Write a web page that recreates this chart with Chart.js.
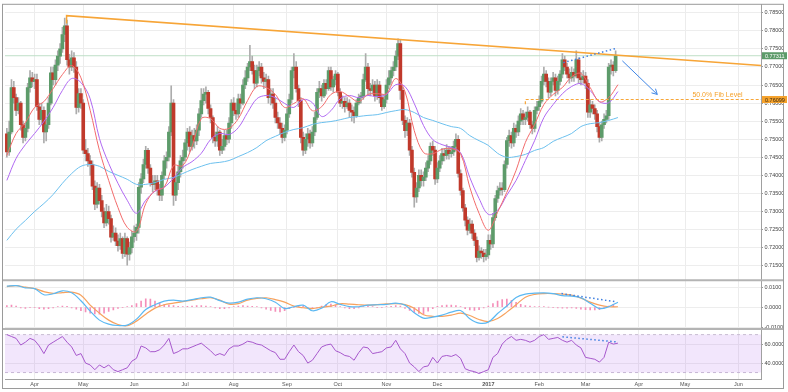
<!DOCTYPE html>
<html>
<head>
<meta charset="utf-8">
<title>AUDUSD daily</title>
<script src="https://cdn.jsdelivr.net/npm/chart.js@4.4.1/dist/chart.umd.min.js"></script>
<style>
  html, body { margin: 0; padding: 0; background: #ffffff; }
  #chart { display: block; }
</style>
</head>
<body>
<canvas id="chart" width="788" height="392"></canvas>
<script>
// =============================================
// DATA (prices in pips, 1 pip = 0.0001)
// x = trading day, 0 = 1 Apr 2016
// =============================================
const firstDay = -12;
const firstOpen = 7515;

const closes = [
  7465, 7520, 7643, 7615, 7580, 7600, 7540, 7505, 7530, 7643,
  7670, 7660, 7665, 7590, 7555, 7580, 7520, 7540, 7600, 7684,
  7665, 7705, 7730, 7750, 7790, 7814, 7720, 7700, 7725, 7700,
  7588, 7626, 7600, 7470, 7460, 7440, 7430, 7370, 7320, 7365,
  7330, 7300, 7268, 7300, 7280, 7229, 7240, 7218, 7205, 7225,
  7184, 7225, 7182, 7200, 7230, 7240, 7256, 7367, 7390, 7430,
  7469, 7420, 7380, 7375, 7385, 7360, 7345, 7400, 7440, 7450,
  7520, 7600, 7345, 7380, 7410, 7440, 7450, 7490, 7520, 7480,
  7510, 7495, 7525, 7570, 7607, 7625, 7630, 7585, 7560, 7505,
  7495, 7520, 7470, 7480, 7510, 7500, 7545, 7600, 7580, 7570,
  7612, 7600, 7650, 7670, 7700, 7715, 7690, 7655, 7690, 7700,
  7670, 7660, 7665, 7615, 7625, 7600, 7560, 7545, 7530, 7505,
  7525, 7570, 7610, 7690, 7700, 7640, 7607, 7505, 7470, 7500,
  7515, 7490, 7520, 7560, 7630, 7640, 7620, 7655, 7640, 7690,
  7645, 7665, 7680, 7630, 7600, 7605, 7590, 7600, 7580, 7575,
  7565, 7600, 7615, 7620, 7665, 7700, 7640, 7635, 7650, 7620,
  7650, 7615, 7590, 7610, 7650, 7670, 7690, 7700, 7730, 7765,
  7635, 7552, 7524, 7545, 7470, 7408, 7340, 7365, 7400, 7385,
  7395, 7420, 7440, 7480, 7470, 7390, 7420, 7440, 7460, 7455,
  7470, 7460, 7465, 7480, 7500, 7405, 7358, 7310, 7276, 7248,
  7265, 7240, 7220, 7173, 7190, 7185, 7175, 7180, 7220, 7210,
  7283, 7336, 7358, 7365, 7360, 7430, 7496, 7510, 7490, 7530,
  7520, 7550, 7570, 7555, 7560, 7575, 7540, 7530, 7580, 7590,
  7605, 7660, 7680, 7660, 7630, 7660, 7670, 7635, 7660, 7680,
  7720, 7700, 7680, 7670, 7685, 7675, 7720, 7670, 7665, 7675,
  7655, 7575, 7595, 7585, 7570, 7535, 7505, 7540, 7555, 7565,
  7700, 7705, 7690, 7731
];

const highs = [
  7530, 7550, 7665, 7660, 7625, 7615, 7605, 7550, 7545, 7655,
  7690, 7685, 7680, 7680, 7600, 7600, 7590, 7555, 7615, 7700,
  7700, 7720, 7745, 7765, 7810, 7835, 7830, 7735, 7745, 7740,
  7715, 7640, 7640, 7610, 7500, 7475, 7455, 7440, 7385, 7380,
  7375, 7345, 7310, 7320, 7315, 7290, 7260, 7255, 7235, 7240,
  7230, 7240, 7230, 7215, 7245, 7260, 7265, 7380, 7405, 7445,
  7480, 7475, 7430, 7400, 7400, 7400, 7375, 7410, 7455, 7465,
  7535, 7648, 7610, 7395, 7425, 7455, 7470, 7500, 7530, 7535,
  7525, 7530, 7540, 7585, 7640, 7640, 7645, 7635, 7595, 7565,
  7520, 7535, 7525, 7500, 7525, 7525, 7560, 7610, 7615, 7600,
  7625, 7625, 7665, 7690, 7710, 7760, 7730, 7705, 7705, 7715,
  7710, 7685, 7680, 7675, 7640, 7640, 7615, 7575, 7560, 7545,
  7540, 7585, 7625, 7700, 7737, 7715, 7650, 7615, 7520, 7515,
  7530, 7525, 7535, 7575, 7640, 7660, 7650, 7665, 7665, 7700,
  7700, 7675, 7690, 7685, 7640, 7620, 7615, 7615, 7610, 7595,
  7590, 7610, 7625, 7630, 7680, 7737, 7710, 7655, 7665, 7660,
  7665, 7660, 7625, 7620, 7665, 7690, 7700, 7715, 7745, 7778,
  7775, 7645, 7565, 7560, 7555, 7480, 7420, 7380, 7415, 7415,
  7410, 7435, 7455, 7490, 7495, 7480, 7435, 7455, 7475, 7475,
  7485, 7480, 7480, 7495, 7515, 7510, 7415, 7365, 7320, 7285,
  7280, 7275, 7250, 7230, 7205, 7200, 7195, 7195, 7235, 7235,
  7295, 7345, 7370, 7380, 7380, 7440, 7505, 7525, 7520, 7545,
  7540, 7565, 7585, 7580, 7575, 7590, 7580, 7550, 7590, 7605,
  7620, 7675, 7700, 7690, 7670, 7670, 7685, 7680, 7675, 7690,
  7737, 7730, 7710, 7695, 7700, 7695, 7745, 7725, 7685, 7690,
  7685, 7665, 7610, 7605, 7595, 7580, 7545, 7550, 7570, 7580,
  7710, 7720, 7715, 7745
];

const lows = [
  7450, 7455, 7515, 7600, 7565, 7570, 7525, 7490, 7495, 7520,
  7630, 7645, 7640, 7580, 7540, 7540, 7490, 7495, 7530, 7595,
  7650, 7650, 7690, 7710, 7740, 7770, 7705, 7680, 7690, 7685,
  7570, 7575, 7585, 7460, 7440, 7425, 7400, 7360, 7305, 7310,
  7320, 7285, 7255, 7260, 7265, 7215, 7220, 7205, 7190, 7195,
  7170, 7175, 7151, 7165, 7185, 7215, 7220, 7240, 7350, 7380,
  7420, 7405, 7370, 7355, 7360, 7345, 7330, 7330, 7390, 7420,
  7440, 7510, 7317, 7330, 7360, 7395, 7420, 7440, 7470, 7465,
  7470, 7475, 7485, 7510, 7560, 7595, 7600, 7570, 7545, 7490,
  7480, 7480, 7455, 7460, 7470, 7485, 7490, 7530, 7565, 7555,
  7560, 7585, 7595, 7640, 7660, 7690, 7680, 7640, 7645, 7675,
  7655, 7640, 7645, 7600, 7595, 7585, 7545, 7530, 7515, 7490,
  7495, 7515, 7560, 7600, 7670, 7630, 7590, 7490, 7455, 7460,
  7480, 7475, 7480, 7510, 7555, 7615, 7605, 7615, 7625, 7635,
  7635, 7630, 7650, 7620, 7590, 7585, 7575, 7585, 7560, 7550,
  7545, 7560, 7595, 7600, 7610, 7660, 7625, 7620, 7625, 7605,
  7610, 7600, 7580, 7585, 7600, 7640, 7655, 7675, 7690, 7720,
  7610, 7540, 7505, 7510, 7455, 7395, 7312, 7325, 7355, 7370,
  7370, 7385, 7410, 7430, 7455, 7375, 7380, 7410, 7430, 7440,
  7445, 7445, 7450, 7455, 7470, 7395, 7345, 7300, 7260, 7235,
  7240, 7225, 7205, 7160, 7165, 7170, 7160, 7165, 7170, 7195,
  7200, 7275, 7325, 7345, 7345, 7355, 7420, 7480, 7475, 7480,
  7505, 7510, 7540, 7540, 7540, 7550, 7530, 7515, 7520, 7570,
  7580, 7600, 7650, 7645, 7615, 7620, 7650, 7620, 7625, 7650,
  7670, 7690, 7670, 7655, 7660, 7660, 7670, 7655, 7650, 7655,
  7640, 7560, 7560, 7570, 7555, 7520, 7492, 7495, 7530, 7545,
  7555, 7680, 7675, 7685
];

// moving averages, read every 4 days starting at day -12
const lineStart = -12;
const lineStep = 4;
const maFast = [
  7455, 7516, 7546, 7588, 7604, 7640, 7679, 7704, 7670, 7580,
  7469, 7386, 7311, 7256, 7245, 7322, 7358, 7367, 7427, 7427,
  7480, 7557, 7557, 7530, 7530, 7557, 7607, 7646, 7643, 7624,
  7588, 7599, 7612, 7579, 7590, 7624, 7632, 7618, 7604, 7624,
  7626, 7626, 7668, 7632, 7524, 7463, 7460, 7472, 7474, 7460,
  7367, 7295, 7248, 7298, 7353, 7414, 7491, 7541, 7596, 7624,
  7643, 7673, 7682, 7643, 7604, 7615, 7651
];
const maMid = [
  7386, 7447, 7485, 7516, 7549, 7588, 7635, 7668, 7657, 7612,
  7502, 7433, 7378, 7331, 7295, 7331, 7356, 7367, 7392, 7422,
  7438, 7461, 7499, 7516, 7513, 7532, 7574, 7612, 7621, 7615,
  7599, 7588, 7610, 7601, 7563, 7579, 7612, 7621, 7615, 7621,
  7618, 7624, 7651, 7646, 7599, 7538, 7499, 7485, 7477, 7463,
  7394, 7336, 7292, 7303, 7345, 7386, 7441, 7496, 7560, 7596,
  7626, 7646, 7654, 7635, 7604, 7601, 7632
];
const maSlow = [
  7220, 7251, 7275, 7300, 7322, 7347, 7378, 7405, 7425, 7430,
  7425, 7411, 7400, 7389, 7375, 7375, 7380, 7389, 7394, 7405,
  7416, 7425, 7433, 7436, 7441, 7452, 7463, 7477, 7496, 7508,
  7519, 7527, 7532, 7541, 7546, 7549, 7554, 7560, 7563, 7566,
  7568, 7574, 7579, 7582, 7574, 7560, 7552, 7543, 7535, 7530,
  7510, 7496, 7483, 7461, 7450, 7452, 7458, 7469, 7477, 7494,
  7505, 7516, 7535, 7543, 7546, 7552, 7560
];

// MACD (x 0.0001), same 4-day grid
const macdLine = [
  105, 108, 97, 93, 62, 67, 82, 72, 32, -20,
  -65, -85, -92, -90, -60, -12, 12, 30, 35, 30,
  38, 47, 50, 33, 20, 25, 40, 47, 42, 25,
  -7, 2, 10, -18, -5, 27, 14, 3, 2, 10,
  12, 14, 20, 10, -28, -55, -50, -40, -25, -17,
  -58, -80, -75, -32, 6, 48, 65, 70, 72, 68,
  58, 55, 47, 20, -7, 2, 25
];
const macdSignal = [
  103, 108, 100, 93, 78, 69, 73, 75, 60, 10,
  -30, -65, -87, -93, -70, -35, -5, 12, 20, 28,
  35, 42, 47, 35, 15, 18, 35, 44, 47, 38,
  25, 5, -3, -7, 0, 5, 17, 15, 12, 10,
  13, 16, 18, 13, -5, -38, -46, -46, -40, -30,
  -42, -62, -72, -57, -25, 12, 50, 64, 68, 68,
  66, 60, 45, 25, 10, 2, 2
];

// MACD histogram and RSI, every 2 days starting at day -12
const halfStep = 2;
const macdHist = [
  8, 10, 6, -4, -6, -3, -2, -8, -10, -8,
  -4, 2, 6, 4, -4, -10, -18, -24, -30, -34,
  -35, -30, -22, -14, -6, -2, 2, 8, 18, 30,
  42, 40, 30, 20, 14, 10, 8, 4, 2, 4,
  6, 8, 8, 6, 2, -4, -8, -8, -4, 2,
  6, 8, 6, 4, 2, -4, -10, -16, -22, -24,
  -18, -8, -2, 4, 6, -4, -8, -4, 6, 14,
  16, 10, 2, -4, -8, -8, -4, 2, 4, 2,
  -2, -2, 2, 4, 8, 6, -6, -16, -26, -32,
  -34, -20, -8, 4, 8, 10, 10, 8, 2, -8,
  -14, -16, -12, -4, 6, 18, 30, 38, 40, 34,
  24, 14, 8, 5, 3, 2, 2, 0, -2, -4,
  -5, -5, -4, -6, -10, -12, -14, -14, -12, -4,
  6, 14
];
const rsiLine = [
  70, 68, 66, 59, 62, 66, 64, 58, 50, 59,
  62, 65, 68, 62, 57, 48, 50, 40, 38, 33,
  38, 35, 38, 33, 31, 33, 35, 42, 45, 58,
  56, 52, 52, 54, 59, 66, 50, 52, 55, 55,
  57, 59, 61, 57, 53, 48, 50, 48, 55, 58,
  58, 60, 63, 62, 60, 59, 56, 53, 51, 44,
  44, 52, 59, 52, 48, 40, 43, 50, 57, 59,
  60, 53, 51, 48, 47, 43, 51, 57, 56, 50,
  51, 52, 56, 57, 64, 55, 50, 40, 36, 31,
  36, 37, 46, 40, 47, 48, 47, 49, 45, 34,
  32, 31, 29, 31, 33, 46, 50, 60, 65, 68,
  64, 65, 64, 62, 64, 68, 70, 65, 66, 67,
  64, 62, 64, 59, 56, 46, 45, 44, 41, 46,
  62, 60, 61
];

// axes
const xMin = -12.8;
const xMax = 313.8;
const monthTicks = [0, 21, 43, 65, 86, 109, 131, 152, 174, 196, 218, 238, 261, 281, 304];
const monthLabels = ['Apr', 'May', 'Jun', 'Jul', 'Aug', 'Sep', 'Oct', 'Nov', 'Dec', '2017', 'Feb', 'Mar', 'Apr', 'May', 'Jun'];
const priceTicks = [0.715, 0.72, 0.725, 0.73, 0.735, 0.74, 0.745, 0.75, 0.755, 0.76, 0.765, 0.77, 0.775, 0.78, 0.785];
const macdTicks = [-0.01, 0, 0.01];
const rsiTicks = [40, 60];
const rsiBand = [70, 30];

// drawn-on analysis
const lastPrice = 0.77311;
const fibLevel = 0.76099;
const fibFrom = 212;
const fibLabel = '50.0% Fib Level';
const fibLabelAt = 295;
const trendLine = [[13.8, 0.7820], [13.8, 0.7842], [313.8, 0.77038]];
const fibLine = [[fibFrom, 0.7597], [fibFrom, fibLevel], [xMax, fibLevel]];
const priceDiv = [[228.4, 0.7712], [250.9, 0.7751]];
const macdDiv = [[227.6, 0.0068], [251, 0.0027]];
const rsiDiv = [[228, 67.7], [251, 62.4]];
const arrowLine = [[253.9, 0.7717], [269, 0.7624]];

// =============================================
// BUILD THE DATASETS
// =============================================
const pip = 10000;
const opens = closes.map((c, k) => (k === 0 ? firstOpen : closes[k - 1]));
const bodies = closes.map((c, k) => ({ x: firstDay + k, y: [opens[k] / pip, c / pip] }));
const wicks = closes.map((c, k) => ({ x: firstDay + k, y: [lows[k] / pip, highs[k] / pip] }));
const bodyColors = closes.map((c, k) => (c >= opens[k] ? '#5d9b6a' : '#c0392b'));

const onGrid = (vals, step, scale) => vals.map((v, k) => ({ x: lineStart + step * k, y: v / scale }));
const pts = pairs => pairs.map(p => ({ x: p[0], y: p[1] }));
const flat = v => [{ x: xMin, y: v }, { x: xMax, y: v }];

const line = (data, color, extra) => Object.assign({
  type: 'line', data, borderColor: color, borderWidth: 1,
  pointRadius: 0, fill: false, yAxisID: 'price'
}, extra || {});

const datasets = [
  // annotations on top
  line(pts(arrowLine), '#3f86e6'),
  line(pts(priceDiv), '#3f7fe0', { borderDash: [1.5, 2.5], borderWidth: 1.5 }),
  line(pts(trendLine), '#f7a537', { borderWidth: 1.5 }),
  line(pts(fibLine), '#f7a537', { borderDash: [3, 2], borderWidth: 1.2 }),
  // moving averages
  line(onGrid(maFast, lineStep, pip), '#f26b6b', { tension: 0.35 }),
  line(onGrid(maMid, lineStep, pip), '#b069f2', { tension: 0.35 }),
  line(onGrid(maSlow, lineStep, pip), '#6cc0ee', { tension: 0.35 }),
  // candles
  { type: 'bar', data: bodies, backgroundColor: bodyColors, barThickness: 3, yAxisID: 'price' },
  { type: 'bar', data: wicks, backgroundColor: '#acacac', barThickness: 1, yAxisID: 'price' },
  line(flat(lastPrice), '#bfdfc7'),
  // MACD pane
  line(pts(macdDiv), '#3f7fe0', { borderDash: [1.5, 2.5], borderWidth: 1.5, yAxisID: 'macd' }),
  line(onGrid(macdLine, lineStep, pip), '#5bb8f2', { tension: 0.35, borderWidth: 1.2, yAxisID: 'macd' }),
  line(onGrid(macdSignal, lineStep, pip), '#f7a25e', { tension: 0.35, borderWidth: 1.2, yAxisID: 'macd' }),
  {
    type: 'bar', yAxisID: 'macd', barThickness: 1, backgroundColor: '#f48fb9',
    data: macdHist.map((v, k) => ({ x: lineStart + halfStep * k, y: [0, v / pip] }))
  },
  // RSI pane
  line(pts(rsiDiv), '#3f7fe0', { borderDash: [1.5, 2.5], borderWidth: 1.5, yAxisID: 'rsi' }),
  line(onGrid(rsiLine, halfStep, 1), '#a657cc', { yAxisID: 'rsi' }),
  line(flat(rsiBand[0]), '#c8bcd2', { borderDash: [3, 3], yAxisID: 'rsi', fill: '+1', backgroundColor: 'rgba(190, 130, 240, 0.2)' }),
  line(flat(rsiBand[1]), '#c8bcd2', { borderDash: [3, 3], yAxisID: 'rsi' })
];

// =============================================
// AXES
// =============================================
const fontFamily = '"Liberation Sans", Arial, sans-serif';
Chart.defaults.font.family = fontFamily;

function paneAxis(ticks, min, max, order, stackWeight, digits) {
  return {
    type: 'linear', axis: 'y', position: 'right', stack: 'panes', stackWeight, weight: order,
    min, max,
    afterBuildTicks: s => { s.ticks = ticks.map(v => ({ value: v })); },
    afterFit: s => { s.width = 22; },
    ticks: { font: { size: 5.5 }, color: '#444', padding: 1.5, callback: v => v.toFixed(digits) },
    grid: { color: '#ededed', tickLength: 2, tickColor: '#999' },
    border: { color: '#a0a0a0' }
  };
}

// =============================================
// EXTRA DRAWING: arrowhead, labels, price tags, frame
// =============================================
const overlay = {
  id: 'overlay',
  afterDatasetsDraw(chart) {
    const { ctx, scales: { x, price } } = chart;
    ctx.save();
    const x0 = x.getPixelForValue(arrowLine[0][0]), y0 = price.getPixelForValue(arrowLine[0][1]);
    const x1 = x.getPixelForValue(arrowLine[1][0]), y1 = price.getPixelForValue(arrowLine[1][1]);
    const ang = Math.atan2(y1 - y0, x1 - x0);
    ctx.strokeStyle = '#3f86e6';
    ctx.lineWidth = 1;
    ctx.beginPath();
    ctx.moveTo(x1 - 6 * Math.cos(ang - 0.5), y1 - 6 * Math.sin(ang - 0.5));
    ctx.lineTo(x1, y1);
    ctx.lineTo(x1 - 6 * Math.cos(ang + 0.5), y1 - 6 * Math.sin(ang + 0.5));
    ctx.stroke();

    ctx.fillStyle = '#f5a22c';
    ctx.font = '7px ' + fontFamily;
    ctx.textAlign = 'center';
    ctx.textBaseline = 'bottom';
    ctx.fillText(fibLabel, x.getPixelForValue(fibLabelAt), price.getPixelForValue(fibLevel) - 1);
    ctx.restore();
  },
  afterDraw(chart) {
    const { ctx, chartArea: a, scales: { x, price, macd, rsi } } = chart;
    const left = a.left - 3, right = a.right + 22;
    ctx.save();
    // pane separators
    ctx.strokeStyle = '#b4b4b4';
    ctx.lineWidth = 2;
    [macd.top, rsi.top].forEach(py => {
      ctx.beginPath(); ctx.moveTo(left, py); ctx.lineTo(right, py); ctx.stroke();
    });
    // outer frame
    ctx.strokeStyle = '#9a9a9a';
    ctx.lineWidth = 1;
    ctx.strokeRect(left + 0.5, a.top - 0.5, right - left, x.bottom - a.top);
    // price tags on the axis
    const tag = (value, bg, fg) => {
      const py = price.getPixelForValue(value);
      ctx.fillStyle = bg;
      ctx.fillRect(a.right + 1, py - 3.5, 25, 7);
      ctx.fillStyle = fg;
      ctx.font = '5.5px ' + fontFamily;
      ctx.textAlign = 'left';
      ctx.textBaseline = 'middle';
      ctx.fillText(value.toFixed(5), a.right + 4, py + 0.5);
    };
    tag(lastPrice, '#5d9b6a', '#ffffff');
    tag(fibLevel, '#f5a22c', '#3a2a10');
    ctx.restore();
  }
};

// =============================================
// DRAW
// =============================================
new Chart(document.getElementById('chart').getContext('2d'), {
  type: 'bar',
  data: { datasets },
  options: {
    responsive: false,
    animation: false,
    devicePixelRatio: 1,
    events: [],
    layout: { padding: { left: 5, top: 4, right: 5, bottom: 3 } },
    datasets: { bar: { grouped: false } },
    plugins: { legend: { display: false }, tooltip: { enabled: false } },
    scales: {
      x: {
        type: 'linear', min: xMin, max: xMax, offset: false,
        afterBuildTicks: s => { s.ticks = monthTicks.map(v => ({ value: v })); },
        afterFit: s => { s.height = 10; },
        ticks: {
          autoSkip: false, maxRotation: 0, color: '#555', padding: 2,
          font: c => ({ size: 5.5, weight: monthLabels[c.index] === '2017' ? 'bold' : 'normal' }),
          callback: v => monthLabels[monthTicks.indexOf(v)]
        },
        grid: { color: '#ececec', drawTicks: false, offset: false },
        border: { color: '#a0a0a0' }
      },
      price: paneAxis(priceTicks, 0.71097, 0.78721, 1, 276, 5),
      macd: paneAxis(macdTicks, -0.011, 0.0135, 2, 49, 4),
      rsi: paneAxis(rsiTicks, 23.2, 75.8, 3, 50, 4)
    }
  },
  plugins: [overlay]
});
</script>
</body>
</html>
